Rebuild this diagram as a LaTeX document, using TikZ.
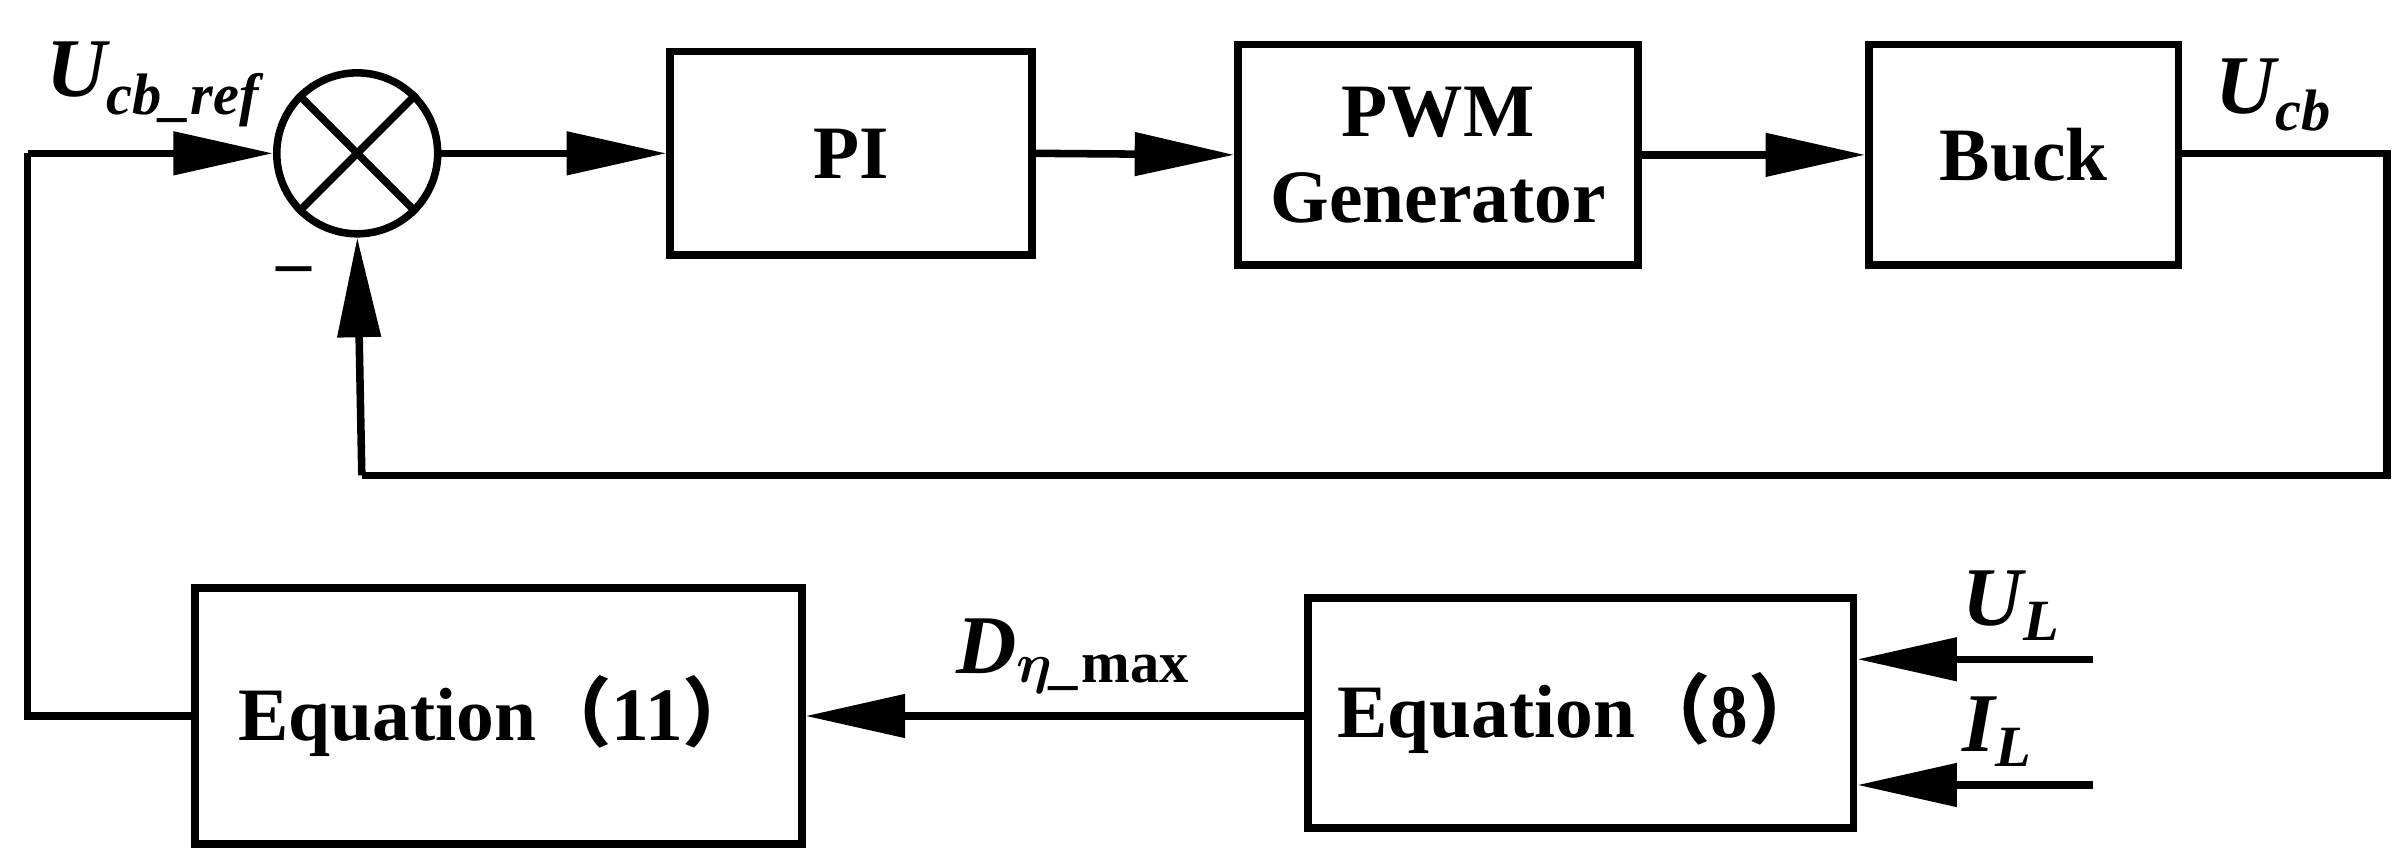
\documentclass[tikz,border=0pt]{standalone}
\usepackage{fontspec}
\setmainfont{Liberation Serif}
\newfontfamily\cjk{Noto Sans CJK SC}
\usetikzlibrary{arrows.meta}
\begin{document}
\begin{tikzpicture}[x=0.02cm,y=-0.02cm,
  box/.style={draw,line width=2.8pt,inner sep=0pt,font=\fontsize{28}{32}\selectfont\bfseries,align=center},
  ln/.style={line width=2.8pt},
  ar/.style={ln,-{Triangle[length=1.3cm,width=0.55cm]}},
  lb/.style={font=\fontsize{31}{34}\selectfont\bfseries\itshape}]
\useasboundingbox (0,0) rectangle (1568,556);
\node[draw,circle,line width=2.8pt,minimum size=2.1cm,inner sep=0pt] (s) at (233,100) {};
\draw[ln] (s.45)--(s.225) (s.135)--(s.315);
\node[box,minimum width=4.72cm,minimum height=2.66cm] (pi) at (555,100) {PI};
\node[box,minimum width=5.22cm,minimum height=2.88cm] (pwm) at (938,101) {PWM\\Generator};
\node[box,minimum width=4.04cm,minimum height=2.88cm] (buck) at (1320,101) {Buck};
\node[box,minimum width=7.92cm,minimum height=3.34cm] (e11) at (325,467) {Equation{\cjk （}11{\cjk ）}};
\node[box,minimum width=7.12cm,minimum height=3.0cm] (e8) at (1031,465) {Equation{\cjk （}8{\cjk ）}};
\coordinate (a) at (1557,100);
\coordinate (b) at (1557,310);
\coordinate (c) at (236,310);
\coordinate (d) at (18,467);
\coordinate (e) at (18,100);
\coordinate (ul) at (1365,430);
\coordinate (il) at (1365,512);
\draw[ar] (s.east)--(pi.west);
\draw[ar] (pi.east)--(pwm.west);
\draw[ar] (pwm.east)--(buck.west);
\draw[ln] (buck.east|-a)--(a)--(b)--(c);
\draw[ar] (c)--(s.south);
\draw[ln] (e11.west|-d)--(d)--(e);
\draw[ar] (e)--(s.west);
\draw[ar] (e8.west|-e11.east)--(e11.east);
\draw[ar] (ul)--(e8.east|-ul);
\draw[ar] (il)--(e8.east|-il);
\node[lb] at (100,55) {U\textsubscript{cb\_ref}};
\node[font=\fontsize{26}{30}\selectfont\bfseries] at (192,180) {\textendash};
\node[lb] at (1483,62) {U\textsubscript{cb}};
\node[lb] at (700,428) {D\textsubscript{{\boldmath$\eta$}\_\textup{max}}};
\node[lb] at (1312,395) {U\textsubscript{L}};
\node[lb] at (1303,477) {I\textsubscript{L}};
\end{tikzpicture}
\end{document}
